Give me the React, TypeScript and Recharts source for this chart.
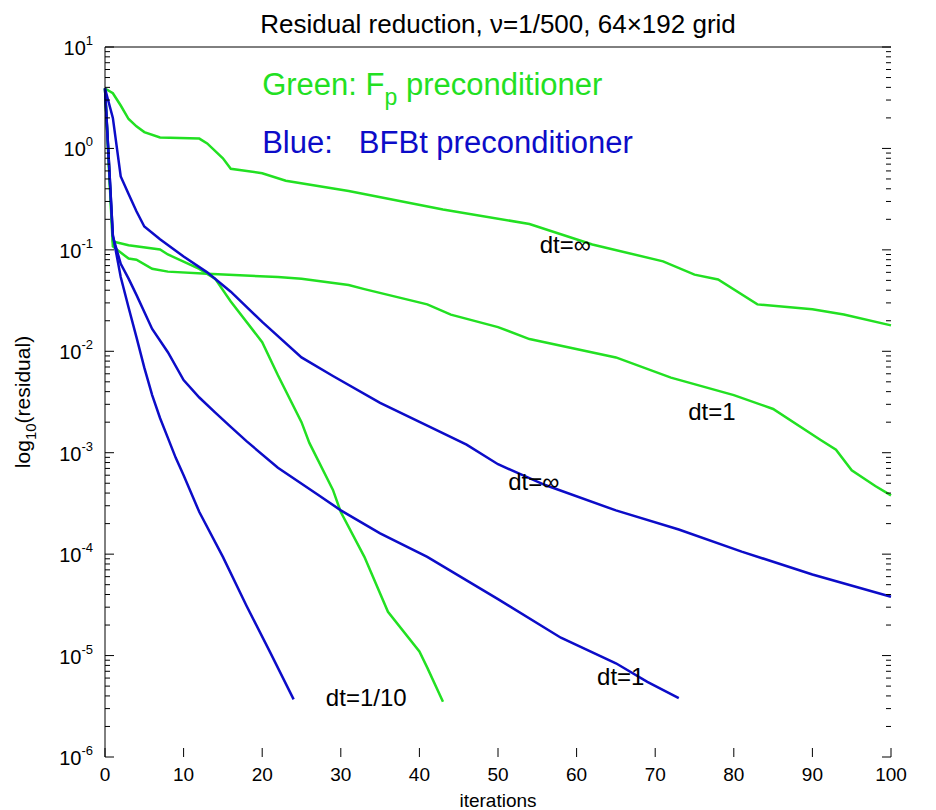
import {
    LineChart,
    Line,
    XAxis,
    YAxis,
    ReferenceDot
} from "recharts";

// iterations / residuals
const fpInfIter = [0, 1, 2, 3, 4, 5, 7, 12, 13, 15, 16, 20, 23, 31, 43, 54, 62, 71, 75, 78, 83, 90, 94, 100];
const fpInfRes = [3.9, 3.5, 2.65, 1.95, 1.65, 1.45, 1.28, 1.25, 1.12, 0.8, 0.63, 0.57, 0.48, 0.38, 0.25, 0.18, 0.113, 0.077, 0.057, 0.051, 0.029, 0.026, 0.023, 0.018];

const fp1Iter = [0, 1, 3, 4, 6, 8, 13, 22, 25, 31, 33, 41, 44, 50, 54, 65, 72, 80, 85, 91, 93, 95, 98, 100];
const fp1Res = [3.9, 0.108, 0.082, 0.08, 0.065, 0.061, 0.058, 0.054, 0.052, 0.045, 0.041, 0.029, 0.023, 0.0173, 0.0132, 0.0087, 0.0055, 0.0037, 0.0027, 0.00134, 0.00107, 0.00067, 0.00047, 0.00038];

const fp10Iter = [0, 1, 3, 7, 8, 12, 13, 14, 16, 20, 22, 25, 26, 29, 30, 33, 36, 40, 41, 43];
const fp10Res = [3.9, 0.121, 0.111, 0.101, 0.09, 0.065, 0.058, 0.052, 0.031, 0.0123, 0.0058, 0.002, 0.00125, 0.00043, 0.00026, 0.000094, 0.000027, 0.000011, 0.0000076, 0.0000035];

const bInfIter = [0, 1, 2, 3, 4, 5, 7, 10, 13, 16, 20, 25, 29, 35, 41, 46, 50, 56, 65, 73, 81, 90, 100];
const bInfRes = [3.9, 2.0, 0.53, 0.355, 0.24, 0.17, 0.127, 0.086, 0.06, 0.0387, 0.0195, 0.0087, 0.0057, 0.0031, 0.00185, 0.0012, 0.00077, 0.00048, 0.00027, 0.000175, 0.000106, 0.000063, 0.000038];

const b1Iter = [0, 1, 2, 3, 4, 6, 8, 10, 12, 14, 16, 18, 22, 27, 30, 35, 41, 50, 58, 65, 69, 73];
const b1Res = [3.9, 0.136, 0.073, 0.052, 0.036, 0.0166, 0.0098, 0.0052, 0.0035, 0.0025, 0.0018, 0.0013, 0.00071, 0.00039, 0.00027, 0.00016, 0.000094, 0.000036, 0.000015, 0.0000084, 0.0000055, 0.0000038];

const b10Iter = [0, 1, 2, 3, 4, 5, 6, 7, 8, 9, 10, 12, 15, 18, 21, 24];
const b10Res = [3.9, 0.14, 0.054, 0.027, 0.0138, 0.0069, 0.0037, 0.0022, 0.0014, 0.00089, 0.0006, 0.00026, 0.000094, 0.000031, 0.0000108, 0.0000037];

const xTicks = [0, 10, 20, 30, 40, 50, 60, 70, 80, 90, 100];
const yMajorTicks = [1e-6, 1e-5, 1e-4, 1e-3, 1e-2, 1e-1, 1, 10];
const yMinorTicks = yMajorTicks.slice(0, -1).flatMap(
    (d) => [2, 3, 4, 5, 6, 7, 8, 9].map((m) => m * d)
);
const yTicks = [...yMajorTicks, ...yMinorTicks].sort((a, b) => a - b);

const GREEN = "#22e022";
const BLUE = "#0c0cc8";
const FONT = "'Liberation Sans', Arial, sans-serif";
const GAP = 12;

const toPoints = (iters: number[], res: number[]) =>
    iters.map((it, i) => ({ it, r: res[i] }));

const isMajor = (v: number) => yMajorTicks.includes(v);

const LeftTick = (props: any) => {
    const { x, y, payload } = props;
    const v = payload.value;
    const ax = x + GAP;
    const e = Math.round(Math.log10(v));
    return (
        <g>
            <line x1={ax} x2={ax + (isMajor(v) ? 9 : 5)} y1={y} y2={y} stroke="#000" />
            {isMajor(v) && (
                <text x={x} y={y} dy={8} textAnchor="end" fontSize={20} fontFamily={FONT} fill="#000">
                    10<tspan dy={-10} fontSize={13}>{e}</tspan>
                </text>
            )}
        </g>
    );
};

const RightTick = (props: any) => {
    const { x, y, payload } = props;
    const v = payload.value;
    return <line x1={x} x2={x - (isMajor(v) ? 9 : 5)} y1={y} y2={y} stroke="#000" />;
};

const BottomTick = (props: any) => {
    const { x, y, payload } = props;
    return (
        <g>
            <line x1={x} x2={x} y1={y - GAP} y2={y - GAP - 9} stroke="#000" />
            <text x={x} y={y} dy={12} textAnchor="middle" fontSize={19} fontFamily={FONT} fill="#000">
                {payload.value}
            </text>
        </g>
    );
};

const TopTick = (props: any) => {
    const { x, y } = props;
    return <line x1={x} x2={x} y1={y} y2={y + 9} stroke="#000" />;
};

const annotation = (text: string, color = "#000", size = 24) => (props: any) => {
    const { viewBox } = props;
    return (
        <text x={viewBox.x} y={viewBox.y} fontSize={size} fontFamily={FONT} fill={color}>
            {text}
        </text>
    );
};

const GreenLegend = (props: any) => {
    const { viewBox } = props;
    return (
        <text x={viewBox.x} y={viewBox.y} fontSize={31} fontFamily={FONT} fill={GREEN}>
            Green: F<tspan dy={10} fontSize={23}>p</tspan>
            <tspan dy={-10}> preconditioner</tspan>
        </text>
    );
};

const BlueLegend = (props: any) => {
    const { viewBox } = props;
    return (
        <text x={viewBox.x} y={viewBox.y} fontSize={31} fontFamily={FONT} fill={BLUE}>
            Blue:<tspan dx={26}>BFBt preconditioner</tspan>
        </text>
    );
};

const YLabel = (props: any) => {
    const { viewBox } = props;
    const cx = viewBox.x + 22;
    const cy = viewBox.y + viewBox.height / 2;
    return (
        <text
            x={cx}
            y={cy}
            transform={`rotate(-90 ${cx} ${cy})`}
            textAnchor="middle"
            fontSize={21}
            fontFamily={FONT}
            fill="#000"
        >
            log<tspan dy={6} fontSize={15}>10</tspan>
            <tspan dy={-6}>(residual)</tspan>
        </text>
    );
};

const series = [
    { key: "fpInf", data: toPoints(fpInfIter, fpInfRes), color: GREEN },
    { key: "fp1", data: toPoints(fp1Iter, fp1Res), color: GREEN },
    { key: "fp10", data: toPoints(fp10Iter, fp10Res), color: GREEN },
    { key: "bInf", data: toPoints(bInfIter, bInfRes), color: BLUE },
    { key: "b1", data: toPoints(b1Iter, b1Res), color: BLUE },
    { key: "b10", data: toPoints(b10Iter, b10Res), color: BLUE }
];

export default function App() {
    return (
        <div style={{ width: 928, height: 802, position: "relative", background: "#fff" }}>
            <LineChart
                width={928}
                height={802}
                margin={{ top: 38, right: 44, bottom: 0, left: 0 }}
            >
                <text
                    x={490}
                    y={25}
                    textAnchor="middle"
                    fontSize={26}
                    fontFamily={FONT}
                    fill="#000"
                >
                    Residual reduction, ν=1/500, 64×192 grid
                </text>

                <XAxis
                    xAxisId="bottom"
                    dataKey="it"
                    type="number"
                    domain={[0, 100]}
                    ticks={xTicks}
                    interval={0}
                    height={53}
                    axisLine={false}
                    tickLine={false}
                    tickSize={0}
                    tickMargin={GAP}
                    tick={<BottomTick />}
                    allowDuplicatedCategory={false}
                    label={{
                        value: "iterations",
                        position: "insideBottom",
                        offset: 3,
                        fontSize: 19,
                        fontFamily: FONT,
                        fill: "#000"
                    }}
                />
                <XAxis
                    xAxisId="top"
                    orientation="top"
                    dataKey="it"
                    type="number"
                    domain={[0, 100]}
                    ticks={xTicks}
                    interval={0}
                    height={1}
                    stroke="#000"
                    tickLine={false}
                    tickSize={0}
                    tickMargin={0}
                    tick={<TopTick />}
                />
                <YAxis
                    yAxisId="left"
                    type="number"
                    scale="log"
                    domain={[1e-6, 10]}
                    allowDataOverflow
                    ticks={yTicks}
                    interval={0}
                    width={97}
                    stroke="#000"
                    tickLine={false}
                    tickSize={0}
                    tickMargin={GAP}
                    tick={<LeftTick />}
                    label={<YLabel />}
                />
                <YAxis
                    yAxisId="right"
                    orientation="right"
                    type="number"
                    scale="log"
                    domain={[1e-6, 10]}
                    allowDataOverflow
                    ticks={yTicks}
                    interval={0}
                    width={1}
                    axisLine={false}
                    tickLine={false}
                    tickSize={0}
                    tickMargin={0}
                    tick={<RightTick />}
                />

                {series.map((s) => (
                    <Line
                        key={s.key}
                        data={s.data}
                        dataKey="r"
                        xAxisId="bottom"
                        yAxisId="left"
                        type="linear"
                        dot={false}
                        stroke={s.color}
                        strokeWidth={2.5}
                        isAnimationActive={false}
                    />
                ))}

                <ReferenceDot xAxisId="bottom" yAxisId="left" x={20} y={3.4} r={0} fill="none" stroke="none" label={GreenLegend} />
                <ReferenceDot xAxisId="bottom" yAxisId="left" x={20} y={0.9} r={0} fill="none" stroke="none" label={BlueLegend} />
                <ReferenceDot xAxisId="bottom" yAxisId="left" x={55.3} y={0.093} r={0} fill="none" stroke="none" label={annotation("dt=∞")} />
                <ReferenceDot xAxisId="bottom" yAxisId="left" x={74.2} y={0.0021} r={0} fill="none" stroke="none" label={annotation("dt=1")} />
                <ReferenceDot xAxisId="bottom" yAxisId="left" x={51.3} y={0.00043} r={0} fill="none" stroke="none" label={annotation("dt=∞")} />
                <ReferenceDot xAxisId="bottom" yAxisId="left" x={62.6} y={0.0000051} r={0} fill="none" stroke="none" label={annotation("dt=1")} />
                <ReferenceDot xAxisId="bottom" yAxisId="left" x={28.1} y={0.0000032} r={0} fill="none" stroke="none" label={annotation("dt=1/10")} />
            </LineChart>
        </div>
    );
}
